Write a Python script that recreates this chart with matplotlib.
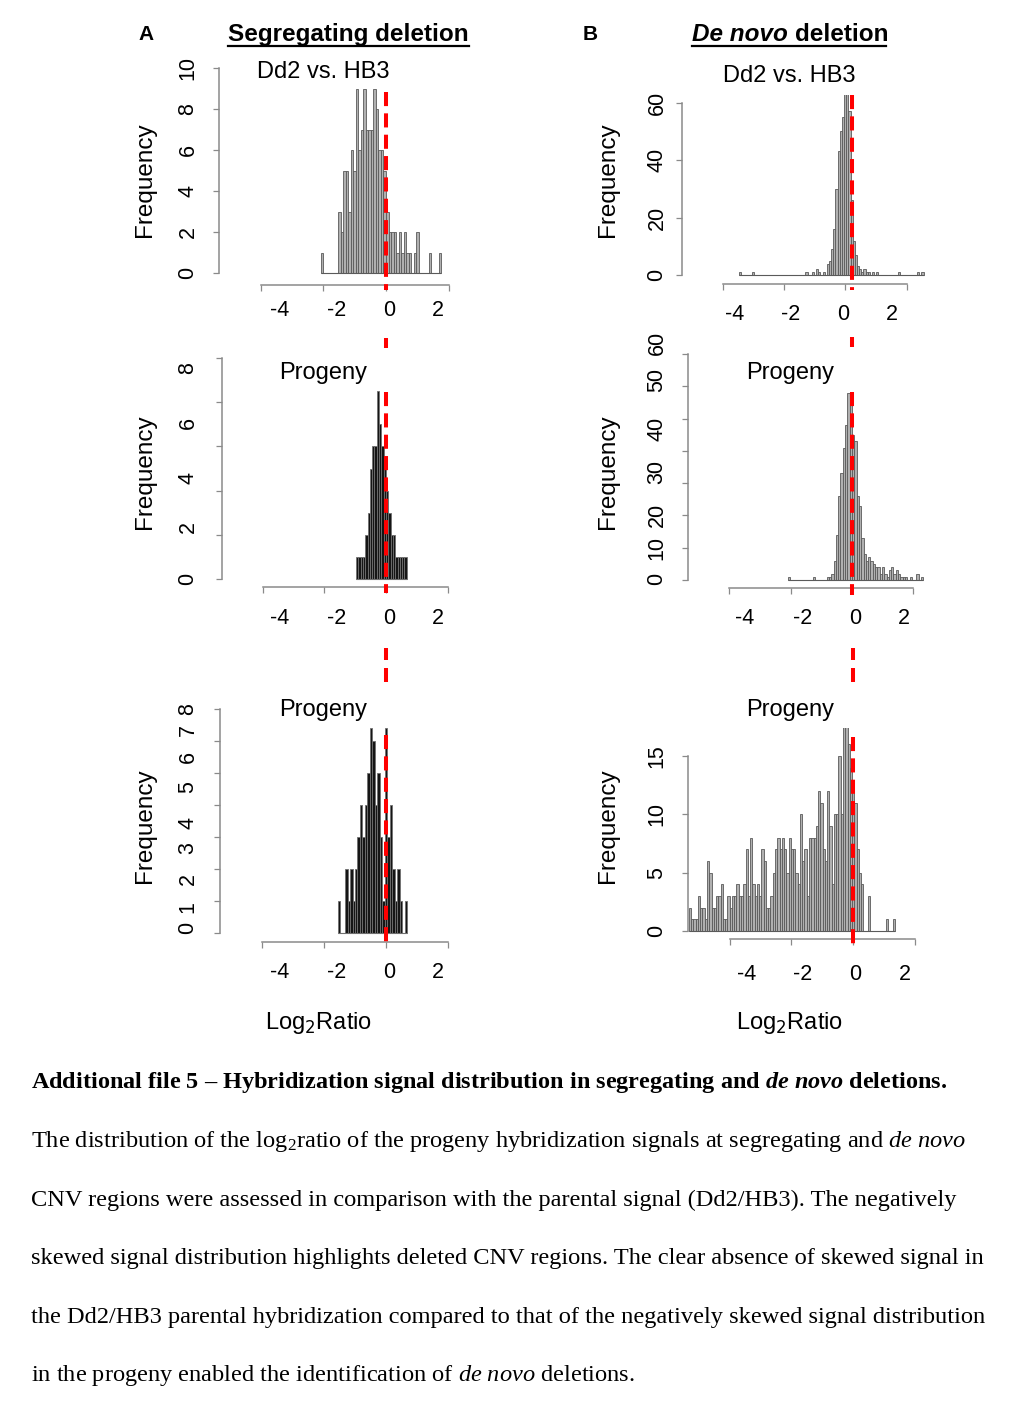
import matplotlib
matplotlib.use("Agg")
import matplotlib.pyplot as plt
from matplotlib.lines import Line2D
import numpy as np

plt.rcParams['font.family'] = ['Liberation Sans', 'DejaVu Sans']
plt.rcParams['mathtext.fontset'] = 'custom'
plt.rcParams['mathtext.rm'] = 'Liberation Serif'
plt.rcParams['mathtext.it'] = 'Liberation Serif:italic'
plt.rcParams['mathtext.bf'] = 'Liberation Serif:bold'
plt.rcParams['mathtext.bfit'] = 'Liberation Serif:italic:bold'

W, H = 1024, 1404

# ---- histogram data: first bin edge, bin width, counts per bin ----
# A: segregating deletion
a1_start, a1_width = -2.08, 0.08
a1_counts = [1, 0, 0, 0, 0, 0, 0, 3, 2, 5, 5, 3, 6, 5, 9, 6, 7, 9, 7, 7,
             7, 9, 8, 6, 6, 5, 3, 2, 2, 2, 1, 2, 1, 2, 1, 1, 0, 1, 2, 0,
             0, 0, 0, 1, 0, 0, 0, 1]

a2_start, a2_width = -0.975, 0.075
a2_counts = [1, 1, 1, 1, 2, 3, 5, 6, 6, 8.5, 7, 6, 5, 4, 3, 2, 2, 1, 1, 1,
             1, 1]

a3_start, a3_width = -1.56, 0.08
a3_counts = [1, 0, 0, 2, 1, 2, 1, 2, 3, 4, 3, 4, 5, 6.4, 6, 4, 5, 3, 1, 6.4,
             3, 4, 2, 1, 2, 1, 0, 1]

# B: de novo deletion
b1_start, b1_width = -3.47, 0.07
b1_counts = ([1] + [0] * 5 + [1] + [0] * 24 +
             [1, 0, 0, 1, 0, 2, 1, 0, 1, 0,
              4, 5, 9, 16, 30, 43, 50, 55, 70, 68, 57, 26, 12, 7, 3, 2, 1, 2, 1, 1,
              0, 1, 0, 1] + [0] * 9 + [1] + [0] * 8 + [1, 0, 1])

b2_start, b2_width = -2.1, 0.075
b2_counts = ([1] + [0] * 10 + [1] + [0] * 5 +
             [1, 1, 2, 6, 14, 26, 33, 41, 48, 58, 56, 45, 43, 26, 23, 13, 8,
              6, 7, 6, 5, 4, 4, 2, 4, 2, 1, 3, 4, 2, 3, 2, 1, 1, 1, 0, 1, 0, 0,
              2, 0, 1])

b3_start, b3_width = -5.33, 0.0736
b3_counts = [2, 1, 1, 1, 3, 2, 2, 1, 6, 5,
             2, 2, 3, 3, 4, 1, 1, 3, 2, 3,
             3, 4, 3, 3, 4, 7, 3, 8, 4, 3,
             4, 3, 7, 6, 2, 2, 3, 5, 7, 8,
             7, 8, 7, 5, 8, 7, 7, 5, 4, 10,
             6, 7, 3, 8, 8, 8, 9, 12, 11, 7,
             6, 12, 9, 4, 10, 10, 15, 10, 18, 18,
             16, 14, 12, 11, 7, 5, 4, 0, 0, 3,
             0, 0, 0, 0, 0, 0, 0, 1, 0, 0,
             1]

x_ticks = [-4, -2, 0, 2]
x_labels = ['-4', '-2', '0', '2']

caption_title = (r'Additional file 5 – Hybridization signal distribution in '
                 r'segregating and $\mathbfit{de\ novo}$ deletions.')
caption_body = [
    r'The distribution of the log$_2$ratio of the progeny hybridization signals at segregating and $\mathit{de\ novo}$',
    'CNV regions were assessed in comparison with the parental signal (Dd2/HB3). The negatively',
    'skewed signal distribution highlights deleted CNV regions. The clear absence of skewed signal in',
    'the Dd2/HB3 parental hybridization compared to that of the negatively skewed signal distribution',
    r'in the progeny enabled the identification of $\mathit{de\ novo}$ deletions.',
]

# ---- layout (pixels) ----
GRAY_FILL, GRAY_EDGE = '#b0b0b0', '#5a5a5a'
DARK_FILL, DARK_EDGE = '#151515', '#707070'
AXIS_COL = '#8a8a8a'

panels = [
    dict(counts=a1_counts, start=a1_start, width=a1_width, fill=GRAY_FILL, edge=GRAY_EDGE,
         x0=386, sx=31.3, y0=273, sy=20.5, box=(219, 68, 460, 285),
         yticks=[0, 2, 4, 6, 8, 10], ylabels=['0', '2', '4', '6', '8', '10'],
         ylabel_at=[0, 2, 4, 6, 8, 10], ylab_off=31,
         xlabel_at=[-3.39, -1.57, 0.10, 1.66], xlab_off=25,
         title='Dd2 vs. HB3', title_xy=(323, 78), freq_xy=(145, 180),
         red_x=0, red_span=(92, 290), red_bits=[]),
    dict(counts=b1_counts, start=b1_start, width=b1_width, fill=GRAY_FILL, edge=GRAY_EDGE,
         x0=845.3, sx=30.67, y0=275, sy=2.875, box=(682, 95, 935, 284),
         yticks=[0, 20, 40, 60], ylabels=['0', '20', '40', '60'],
         ylabel_at=[0, 20, 40, 60], ylab_off=25,
         xlabel_at=[-3.60, -1.77, -0.07, 1.52], xlab_off=30,
         title='Dd2 vs. HB3', title_xy=(789, 82), freq_xy=(608, 180),
         red_x=0.23, red_span=(95, 290), red_bits=[]),
    dict(counts=a2_counts, start=a2_start, width=a2_width, fill=DARK_FILL, edge=DARK_EDGE,
         x0=386, sx=30.8, y0=579, sy=22.1, box=(222, 358, 460, 587),
         yticks=[0, 2, 4, 6, 8, 10], ylabels=['0', '2', '4', '6', '8'],
         ylabel_at=[0, 2.36, 4.57, 7.06, 9.55], ylab_off=34,
         xlabel_at=[-3.44, -1.59, 0.10, 1.69], xlab_off=31,
         title='Progeny', title_xy=(323, 379), freq_xy=(145, 472),
         red_x=0, red_span=(392, 593), red_bits=[(338, 348)]),
    dict(counts=b2_counts, start=b2_start, width=b2_width, fill=GRAY_FILL, edge=GRAY_EDGE,
         x0=852, sx=30.7, y0=580, sy=3.23, box=(688, 354, 935, 588),
         yticks=[0, 10, 20, 30, 40, 50, 60, 70],
         ylabels=['0', '10', '20', '30', '40', '50', '60'],
         ylabel_at=[0.3, 9.9, 20.1, 33.4, 46.7, 61.9, 73.4], ylab_off=31,
         xlabel_at=[-3.49, -1.60, 0.10, 1.69], xlab_off=30,
         title='Progeny', title_xy=(790, 379), freq_xy=(608, 472),
         red_x=0, red_span=(392, 595), red_bits=[(337, 347)]),
    dict(counts=a3_counts, start=a3_start, width=a3_width, fill=DARK_FILL, edge=DARK_EDGE,
         x0=386, sx=31.0, y0=933, sy=32.0, box=(220, 709, 460, 942),
         yticks=[0, 1, 2, 3, 4, 5, 6, 7],
         ylabels=['0', '1', '2', '3', '4', '5', '6', '7', '8'],
         ylabel_at=[0.16, 0.81, 1.69, 2.66, 3.44, 4.56, 5.5, 6.34, 7.0], ylab_off=32,
         xlabel_at=[-3.42, -1.58, 0.10, 1.68], xlab_off=31,
         title='Progeny', title_xy=(323, 716), freq_xy=(145, 826),
         red_x=0, red_span=(735, 948), red_bits=[(648, 660), (668, 682)]),
    dict(counts=b3_counts, start=b3_start, width=b3_width, fill=GRAY_FILL, edge=GRAY_EDGE,
         x0=853, sx=30.8, y0=931, sy=11.67, box=(688, 728, 935, 939),
         yticks=[0, 5, 10, 15], ylabels=['0', '5', '10', '15'],
         ylabel_at=[0, 5, 10, 15], ylab_off=31,
         xlabel_at=[-3.44, -1.62, 0.06, 1.69], xlab_off=36,
         title='Progeny', title_xy=(790, 716), freq_xy=(608, 826),
         red_x=0, red_span=(737, 947), red_bits=[(648, 660), (668, 682)]),
]


def fx(x):
    return x / W


def fy(y):
    return 1 - y / H


fig = plt.figure(figsize=(W / 100, H / 100), dpi=100)

for p in panels:
    l, t, r, b = p['box']
    ax = fig.add_axes([fx(l), fy(b), (r - l) / W, (b - t) / H])
    ax.patch.set_alpha(0)
    ax.set_xlim((l - p['x0']) / p['sx'], (r - p['x0']) / p['sx'])
    ax.set_ylim((p['y0'] - b) / p['sy'], (p['y0'] - t) / p['sy'])

    counts = np.asarray(p['counts'], dtype=float)
    edges = p['start'] + p['width'] * np.arange(len(counts) + 1)
    ax.bar(edges[:-1], counts, width=p['width'], align='edge',
           color=p['fill'], edgecolor=p['edge'], linewidth=0.6)
    ax.hlines(0, edges[0], edges[-1], color=p['edge'], linewidth=0.8)

    for s in ('top', 'right'):
        ax.spines[s].set_visible(False)
    for s in ('left', 'bottom'):
        ax.spines[s].set_color(AXIS_COL)
        ax.spines[s].set_linewidth(1.1)
    ax.spines['left'].set_bounds(p['yticks'][0], p['yticks'][-1])
    ax.spines['bottom'].set_bounds(x_ticks[0], x_ticks[-1])
    ax.set_xticks(x_ticks)
    ax.set_xticklabels([])
    ax.set_yticks(p['yticks'])
    ax.set_yticklabels([])
    ax.tick_params(length=4.5, width=0.9, color=AXIS_COL)

    for v, s in zip(p['ylabel_at'], p['ylabels']):
        ax.annotate(s, xy=(0, v), xycoords=('axes fraction', 'data'),
                    xytext=(-p['ylab_off'], 0), textcoords='offset pixels',
                    rotation=90, ha='center', va='center', fontsize=15.5,
                    annotation_clip=False)
    for v, s in zip(p['xlabel_at'], x_labels):
        ax.annotate(s, xy=(v, 0), xycoords=('data', 'axes fraction'),
                    xytext=(0, -p['xlab_off']), textcoords='offset pixels',
                    ha='center', va='center', fontsize=15.5,
                    annotation_clip=False)

    # red reference line
    ya, yb = p['red_span']
    ax.plot([p['red_x'], p['red_x']],
            [(p['y0'] - ya) / p['sy'], (p['y0'] - yb) / p['sy']],
            color='red', lw=2.9, ls=(0, (3.5, 1.8)), clip_on=False,
            dash_capstyle='butt', zorder=3)
    for ya, yb in p['red_bits']:
        ax.plot([p['red_x'], p['red_x']],
                [(p['y0'] - ya) / p['sy'], (p['y0'] - yb) / p['sy']],
                color='red', lw=2.9, clip_on=False, solid_capstyle='butt', zorder=3)

    fig.text(fx(p['title_xy'][0]), fy(p['title_xy'][1]), p['title'],
             ha='center', va='baseline', fontsize=17)
    fig.text(fx(p['freq_xy'][0]), fy(p['freq_xy'][1]), 'Frequency',
             rotation=90, ha='center', va='center', fontsize=17.5)

# x axis titles
for cx in (319, 790):
    fig.text(fx(cx), fy(1029), 'Log$_2$Ratio', ha='center', va='baseline',
             fontsize=17, math_fontfamily='dejavusans')

# column headers
fig.text(fx(146), fy(40), 'A', weight='bold', fontsize=15, ha='center', va='baseline')
fig.text(fx(590), fy(40), 'B', weight='bold', fontsize=15, ha='center', va='baseline')
fig.text(fx(348), fy(41), 'Segregating deletion', weight='bold', fontsize=17.5,
         ha='center', va='baseline')
fig.text(fx(692), fy(41), 'De novo', weight='bold', style='italic', fontsize=17.5,
         ha='left', va='baseline')
fig.text(fx(795), fy(41), 'deletion', weight='bold', fontsize=17.5,
         ha='left', va='baseline')
for x1, x2 in ((228, 469), (692, 886)):
    fig.add_artist(Line2D([fx(x1), fx(x2)], [fy(46), fy(46)], color='black',
                          lw=1.6, transform=fig.transFigure))

# caption
fig.text(fx(31), fy(1088), caption_title, family='Liberation Serif',
         weight='bold', fontsize=17.5, ha='left', va='baseline')
for i, line in enumerate(caption_body):
    fig.text(fx(31), fy(1147 + 58.6 * i), line, family='Liberation Serif',
             fontsize=17.6, ha='left', va='baseline')

fig.savefig('out.png', dpi=100)
